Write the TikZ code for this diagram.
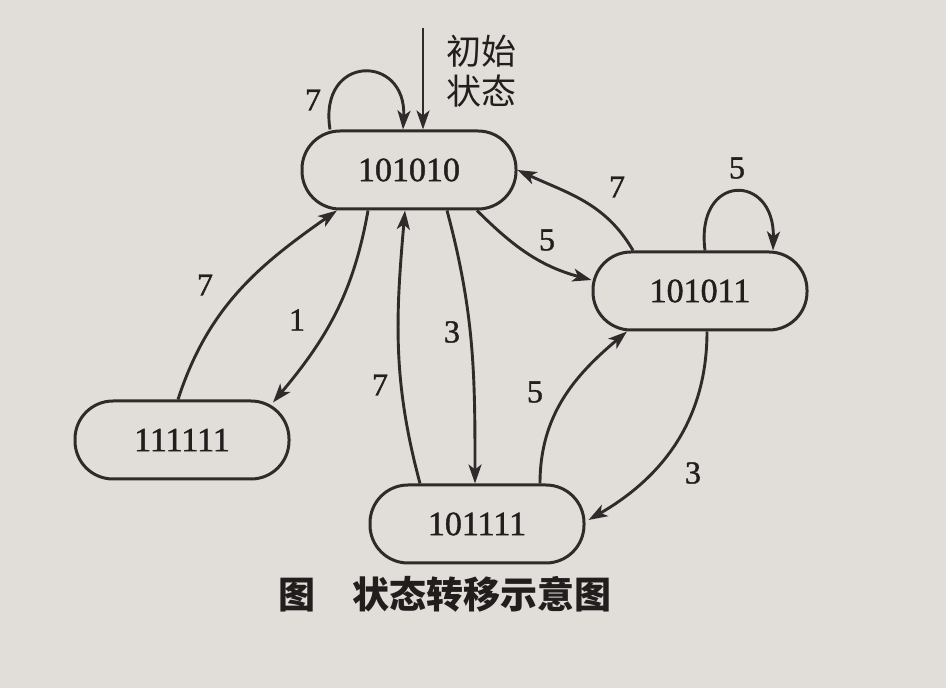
\documentclass[tikz,border=0pt]{standalone}
\usepackage{fontspec}
\setmainfont{Liberation Serif}
\newfontfamily\numfont[FakeBold=1.2]{Liberation Serif}
\newfontfamily\cjk{Noto Sans CJK SC}
\usetikzlibrary{arrows.meta,calc}
\definecolor{bg}{RGB}{225,221,216}
\definecolor{lc}{RGB}{48,43,43}
\definecolor{tc}{RGB}{35,30,30}
\begin{document}
\begin{tikzpicture}[x=1pt,y=1pt,
  state/.style={draw=lc, line width=3pt, rounded corners=38pt, minimum width=214pt, minimum height=78pt, inner sep=0pt, text=tc, font=\numfont\fontsize{34}{40}\selectfont},
  arr/.style={draw=lc, line width=2.9pt, -{Stealth[length=19pt,width=13pt,inset=5pt]}},
  lbl/.style={text=tc, font=\numfont\fontsize{32}{38}\selectfont, inner sep=0pt}]
\fill[bg] (0,0) rectangle (946,688);
\useasboundingbox (0,0) rectangle (946,688);

\node[state] (A) at (409,518) {101010};
\node[state] (B) at (700,397) {101011};
\node[state] (C) at (182,248) {111111};
\node[state] (D) at (477,164) {101111};

% initial state
\coordinate (init) at (423,660);
\draw[arr] (init) -- (init |- A.north);
\node[text=tc, font=\cjk\fontsize{35}{40}\selectfont, align=left, inner sep=0pt] (initlbl) at (481,617) {初始\\状态};

% self loops
\draw[arr] ($(A.north)+(-79,0)$) .. controls +(-12,76) and +(4,76) .. ($(A.north)+(-6,0)$);
\node[lbl] (lA) at (313,588) {7};
\draw[arr] ($(B.north)+(5,0)$) .. controls +(-10,78) and +(2,78) .. ($(B.north)+(73,0)$);
\node[lbl] (lB) at (737,520) {5};

% A <-> B
\draw[arr] ($(A.south)+(68,0)$) to[out=-45,in=165] ($(B.west)+(0,11)$);
\node[lbl] (l1) at (547,448) {5};
\draw[arr] ($(B.north)+(-67,0)$) to[out=120,in=-25] (A.east);
\node[lbl] (l2) at (617,501) {7};

% B <-> D
\draw[arr] ($(B.south)+(7,0)$) to[out=-90,in=30] ($(D.east)+(3,4)$);
\node[lbl] (l3) at (693,215) {3};
\draw[arr] ($(D.north)+(63,0)$) to[out=90,in=220] ($(B.south)+(-73,0)$);
\node[lbl] (l4) at (535,296) {5};

% A <-> D
\draw[arr] ($(A.south)+(38,0)$) to[out=-75,in=90] ($(D.north)+(-2,0)$);
\node[lbl] (l5) at (452,356) {3};
\draw[arr] ($(D.north)+(-57,0)$) to[out=105,in=-95] ($(A.south)+(-4,0)$);
\node[lbl] (l6) at (380,303) {7};

% A <-> C
\draw[arr] ($(A.south)+(-41,0)$) to[out=-100,in=50] ($(C.north)+(91,-3)$);
\node[lbl] (l7) at (297,368) {1};
\draw[arr] ($(C.north)+(-4,0)$) to[out=72,in=215] ($(A.south)+(-72,0)$);
\node[lbl] (l8) at (205,403) {7};

% caption
\node[text=tc, font=\cjk\bfseries\fontsize{37}{40}\selectfont, inner sep=0pt] (cap) at (445,94) {图　状态转移示意图};
\end{tikzpicture}
\end{document}
